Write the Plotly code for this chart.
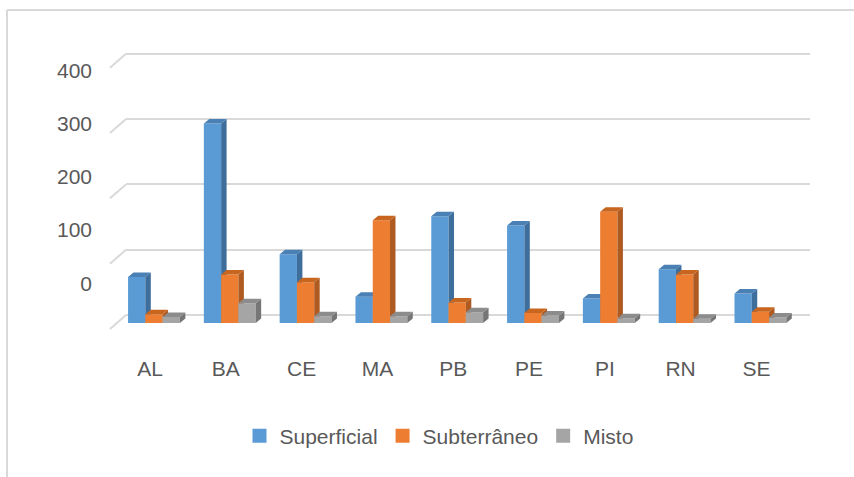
import plotly.graph_objects as go

# ---------------- data ----------------
CATEGORIES = ["AL", "BA", "CE", "MA", "PB", "PE", "PI", "RN", "SE"]
SERIES_NAMES = ["Superficial", "Subterrâneo", "Misto"]
SUPERFICIAL = [65, 300, 100, 35, 158, 144, 32, 77, 40]
SUBTERRANEO = [8, 69, 57, 152, 26, 10, 165, 69, 12]
MISTO = [4, 25, 5, 5, 11, 6, 2, 1, 3]
Y_TICKS = [0, 100, 200, 300, 400]

# ---------------- styling / layout ----------------
W, H = 854, 477
PL, PR, PT, PB = 126, 810, 40, 340          # plot-area pixel edges
X_RANGE = [-0.369, 8.654]
Y_RANGE = [-38.28, 421.13]                   # back-wall value scale
Y2_RANGE = [-106.5, 456.9]                   # scale of the printed value labels

BAR_W = 0.228        # bar width (category units)
DX = 0.072           # 3D depth, x
DY = 6.9             # 3D depth, y (value units)
BASE = -12.3         # floor front edge

FRONT = ["#5B9BD5", "#ED7D31", "#A5A5A5"]
SIDE = ["#3D6E9C", "#AE5A21", "#767676"]
TOP = ["#4A80B4", "#C8661F", "#8C8C8C"]
GRID = "#D9D9D9"
TEXT = "#595959"
FONT = "Liberation Sans"


def px_x(p):
    return (p - PL) / (PR - PL)


def px_y(p):
    return (PB - p) / (PB - PT)


fig = go.Figure()

series = [SUPERFICIAL, SUBTERRANEO, MISTO]
for s, vals in enumerate(series):
    off = (s - 1) * BAR_W
    fx, fy, sx, sy, tx, ty = [], [], [], [], [], []
    for i, v in enumerate(vals):
        x0 = i + off - BAR_W / 2
        x1 = x0 + BAR_W
        ft = v - DY
        fx += [x0, x1, x1, x0, x0, None]
        fy += [BASE, BASE, ft, ft, BASE, None]
        sx += [x1, x1 + DX, x1 + DX, x1, x1, None]
        sy += [BASE, BASE + DY, v, ft, BASE, None]
        tx += [x0, x1, x1 + DX, x0 + DX, x0, None]
        ty += [ft, ft, v, v, ft, None]
    for xs, ys, col in ((fx, fy, FRONT[s]), (sx, sy, SIDE[s]), (tx, ty, TOP[s])):
        fig.add_trace(go.Scatter(x=xs, y=ys, mode="lines", fill="toself",
                                 fillcolor=col, line=dict(width=0, color=col),
                                 hoverinfo="skip", showlegend=False))

# legend entries
for s, name in enumerate(SERIES_NAMES):
    fig.add_trace(go.Bar(x=[None], y=[None], name=name,
                         marker=dict(color=FRONT[s], line=dict(color=FRONT[s], width=2)),
                         showlegend=True))

# invisible trace to carry the label axis
fig.add_trace(go.Scatter(x=[None], y=[None], yaxis="y2", showlegend=False,
                         hoverinfo="skip"))

shapes = []
# slanted left parts of gridlines (perspective)
for v in Y_TICKS:
    shapes.append(dict(type="line", xref="paper", yref="y",
                       x0=px_x(110), y0=v - 21.4, x1=px_x(126), y1=v,
                       line=dict(color=GRID, width=2)))
# chart border (left and top)
shapes.append(dict(type="line", xref="paper", yref="paper",
                   x0=px_x(7), y0=px_y(10), x1=px_x(7), y1=px_y(477),
                   line=dict(color=GRID, width=2)))
shapes.append(dict(type="line", xref="paper", yref="paper",
                   x0=px_x(7), y0=px_y(10), x1=px_x(854), y1=px_y(10),
                   line=dict(color=GRID, width=2)))

fig.update_layout(
    width=W, height=H,
    margin=dict(l=PL, r=W - PR, t=PT, b=H - PB, pad=0),
    paper_bgcolor="white", plot_bgcolor="white",
    font=dict(family=FONT, size=21, color=TEXT),
    showlegend=True,
    legend=dict(orientation="h", x=px_x(439), xanchor="center",
                y=px_y(436), yanchor="middle", font=dict(size=21, color=TEXT),
                itemwidth=30, traceorder="normal"),
    xaxis=dict(range=X_RANGE, tickmode="array", tickvals=list(range(len(CATEGORIES))),
               ticktext=CATEGORIES, showgrid=False, zeroline=False, showline=False,
               ticks="", ticklabelstandoff=14, ticklabelshift=-4,
               tickfont=dict(size=21, color=TEXT), fixedrange=True),
    yaxis=dict(range=Y_RANGE, tickmode="array", tickvals=Y_TICKS, showticklabels=False,
               showgrid=True, gridcolor=GRID, gridwidth=2, zeroline=False,
               showline=False, ticks="", fixedrange=True),
    yaxis2=dict(range=Y2_RANGE, overlaying="y", side="left", tickmode="array",
                tickvals=Y_TICKS, ticktext=[str(t) for t in Y_TICKS],
                showgrid=False, zeroline=False, showline=False, ticks="",
                ticklabelstandoff=33, tickfont=dict(size=21, color=TEXT),
                fixedrange=True),
    shapes=shapes,
)

fig.write_html("out.html")
